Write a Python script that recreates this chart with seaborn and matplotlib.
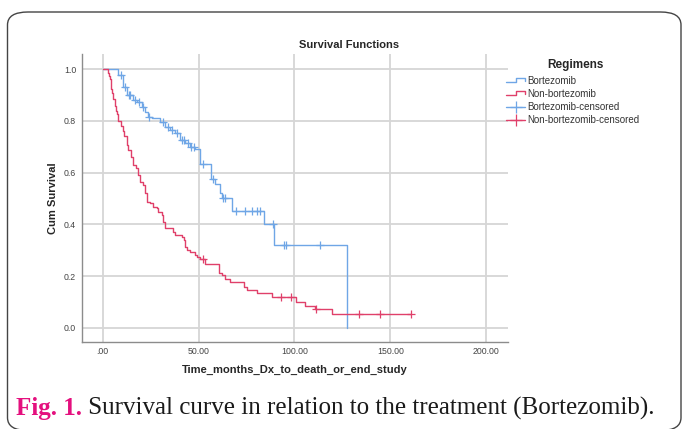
import numpy as np
import pandas as pd
import matplotlib
matplotlib.use("Agg")
import matplotlib.pyplot as plt
import seaborn as sns
from matplotlib.lines import Line2D
from matplotlib.legend_handler import HandlerBase
from matplotlib.patches import FancyBboxPatch

# ---------------- data ----------------
bort_t = [0, 8.2, 10.5, 12.6, 16.0, 17.8, 20.4, 22.1, 23.8, 25.6, 30.0, 32.6, 35.2,
          37.8, 40.4, 43.0, 45.7, 48.3, 50.9, 56.5, 58.7, 61.0, 62.0, 67.5, 84.0,
          89.2, 127.6]
bort_s = [1.0, 0.977, 0.932, 0.90, 0.88, 0.874, 0.855, 0.836, 0.816, 0.81, 0.797,
          0.778, 0.765, 0.752, 0.726, 0.713, 0.70, 0.69, 0.632, 0.575, 0.558, 0.52,
          0.50, 0.451, 0.40, 0.32, 0.0]
bort_cens = [9.5, 11.8, 13.6, 14.2, 17.0, 19.0, 21.0, 24.3, 31.5, 34.0, 36.3, 39.0,
             41.5, 42.5, 44.3, 46.2, 47.4, 52.6, 57.5, 62.8, 64.0, 69.8, 74.4, 78.0,
             80.5, 82.3, 88.6, 94.6, 95.4, 113.6]

non_t = [0, 2.6, 3.5, 3.9, 4.3, 5.0, 5.5, 6.4, 6.8, 7.3, 8.2, 9.6, 10.8, 11.3, 12.6,
         13.1, 14.8, 15.9, 17.2, 18.6, 19.5, 21.2, 22.1, 23.0, 24.7, 26.5, 28.2, 29.1,
         30.9, 31.7, 32.6, 36.9, 37.8, 41.3, 42.2, 43.0, 43.9, 45.7, 48.3, 49.2, 51.0,
         53.5, 60.5, 62.2, 64.0, 66.6, 73.5, 75.3, 80.5, 88.4, 100.6, 105.3, 110.5,
         119.8, 160.7]
non_s = [1.0, 0.987, 0.974, 0.961, 0.922, 0.909, 0.883, 0.857, 0.838, 0.825, 0.799,
         0.779, 0.760, 0.740, 0.708, 0.688, 0.662, 0.630, 0.617, 0.591, 0.565, 0.552,
         0.520, 0.487, 0.481, 0.468, 0.462, 0.449, 0.436, 0.410, 0.385, 0.371, 0.359,
         0.352, 0.339, 0.313, 0.300, 0.294, 0.281, 0.272, 0.265, 0.246, 0.210, 0.204,
         0.187, 0.178, 0.159, 0.146, 0.135, 0.118, 0.100, 0.085, 0.072, 0.054, 0.054]
non_cens = [52.3, 93.1, 98.3, 111.4, 133.7, 144.5, 160.7]

x_ticks = [0, 50, 100, 150, 200]
x_ticklabels = [".00", "50.00", "100.00", "150.00", "200.00"]
y_ticks = [0.0, 0.2, 0.4, 0.6, 0.8, 1.0]
y_ticklabels = ["0.0", "0.2", "0.4", "0.6", "0.8", "1.0"]

BLUE = "#6fa6e6"
RED = "#e0406a"


def cens_points(times, surv, cens):
    times = np.asarray(times)
    surv = np.asarray(surv)
    idx = np.searchsorted(times, cens, side="right") - 1
    return pd.DataFrame({"t": cens, "s": surv[idx]})


curves = pd.concat([
    pd.DataFrame({"t": bort_t, "s": bort_s, "g": "Bortezomib"}),
    pd.DataFrame({"t": non_t, "s": non_s, "g": "Non-bortezomib"}),
])
bc = cens_points(bort_t, bort_s, bort_cens)
nc = cens_points(non_t, non_s, non_cens)

# ---------------- figure ----------------
sns.set_style("white")
plt.rcParams["font.family"] = ["Liberation Sans", "DejaVu Sans"]
fig = plt.figure(figsize=(6.84, 4.29), dpi=100)
W, H = 684, 429
ax = fig.add_axes([81.7 / W, 1 - 341.7 / H, (507.7 - 81.7) / W, (341.7 - 54) / H])

# outer rounded frame (open at the bottom edge of the image)
frame = FancyBboxPatch((7.5 / W, -1.5 / H), (681 - 7.5) / W, (418.5) / H,
                       boxstyle="round,pad=0,rounding_size=0.03",
                       transform=fig.transFigure, fill=False,
                       edgecolor="#444444", linewidth=1.0, zorder=0)
frame.set_clip_on(False)
fig.patches.append(frame)

ax.set_xlim(-10.9, 211.2)
ax.set_ylim(-0.054, 1.059)
ax.set_xticks(x_ticks)
ax.set_xticklabels(x_ticklabels)
ax.set_yticks(y_ticks)
ax.set_yticklabels(y_ticklabels)
ax.grid(True, color="#d6d6d6", linewidth=1.3)
ax.set_axisbelow(True)
for sp in ["top", "right"]:
    ax.spines[sp].set_visible(False)
for sp in ["left", "bottom"]:
    ax.spines[sp].set_color("#8c8c8c")
    ax.spines[sp].set_linewidth(1.0)
ax.tick_params(axis="both", length=0, labelsize=6.3, labelcolor="#444444", pad=4)

sns.lineplot(data=curves, x="t", y="s", hue="g", palette=[BLUE, RED],
             estimator=None, drawstyle="steps-post", linewidth=1.0, ax=ax,
             legend=False)
ax.plot(bc["t"], bc["s"], linestyle="none", marker="+", ms=6, mew=0.9, color=BLUE)
ax.plot(nc["t"], nc["s"], linestyle="none", marker="+", ms=6, mew=0.9, color=RED)

ax.set_xlabel("Time_months_Dx_to_death_or_end_study", fontsize=8, fontweight="bold",
              labelpad=6)
ax.set_ylabel("Cum Survival", fontsize=8, fontweight="bold", labelpad=4)
fig.text(349 / W, 1 - 45 / H, "Survival Functions", fontsize=8, fontweight="bold",
         ha="center", va="center")


class StepHandler(HandlerBase):
    def create_artists(self, legend, orig_handle, xdescent, ydescent, width, height,
                       fontsize, trans):
        x0 = -xdescent
        y0 = -ydescent
        xs = [x0, x0 + width * 0.5, x0 + width * 0.5, x0 + width, x0 + width]
        ys = [y0 + height * 0.25, y0 + height * 0.25, y0 + height * 0.85,
              y0 + height * 0.85, y0 + height * 0.45]
        ln = Line2D(xs, ys, color=orig_handle.get_color(), lw=1.0)
        ln.set_transform(trans)
        return [ln]


h1 = Line2D([], [], color=BLUE, lw=1.0)
h2 = Line2D([], [], color=RED, lw=1.0)
h3 = Line2D([], [], color=BLUE, lw=1.0, marker="+", ms=8, mew=0.9)
h4 = Line2D([], [], color=RED, lw=1.0, marker="+", ms=8, mew=0.9)
fig.text(575 / W, 1 - 65 / H, "Regimens", fontsize=8.5, fontweight="bold",
         ha="center", va="center")
leg = fig.legend([h1, h2, h3, h4],
                 ["Bortezomib", "Non-bortezomib", "Bortezomib-censored",
                  "Non-bortezomib-censored"],
                 handler_map={h1: StepHandler(), h2: StepHandler()},
                 loc="upper left",
                 bbox_to_anchor=(506 / W, 1 - 76 / H), frameon=False,
                 fontsize=7, handlelength=2.0, handletextpad=0.15,
                 labelspacing=0.32, borderaxespad=0, borderpad=0)
for t in leg.get_texts():
    t.set_color("#333333")

# caption
t1 = fig.text(16 / W, 1 - 409 / H, "Fig. 1.", fontsize=18, fontweight="bold",
              color="#e4107e", family=["Liberation Serif"], va="center")
ann = plt.annotate(" Survival curve in relation to the treatment (Bortezomib).",
                   xy=(1, 0), xycoords=t1, va="bottom", ha="left",
                   fontsize=18, color="#1a1a1a", family=["Liberation Serif"],
                   annotation_clip=False)

fig.savefig("out.png", dpi=100)
